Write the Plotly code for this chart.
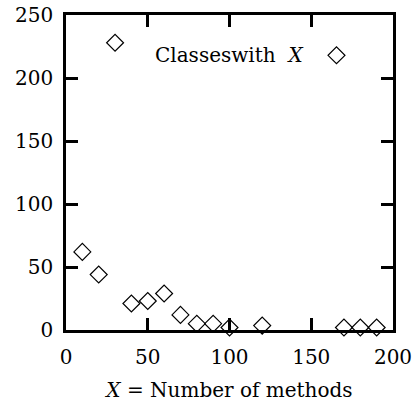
import plotly.graph_objects as go

methods = [10, 20, 30, 40, 50, 60, 70, 80, 90, 100, 120, 170, 180, 190]
classes = [62, 44, 228, 21, 23, 29, 12, 5, 5, 2, 3.5, 2, 2, 2]

x_ticks = [0, 50, 100, 150, 200]
y_ticks = [0, 50, 100, 150, 200, 250]

FONT = "DejaVu Serif"
FS = 20

fig = go.Figure()
fig.add_trace(go.Scatter(
    x=methods, y=classes, mode="markers", name=" ",
    marker=dict(symbol="diamond-open", size=13, color="black", line=dict(width=1.2, color="black")),
    cliponaxis=False, showlegend=True,
))

axis_common = dict(
    showgrid=False, zeroline=False, showline=True, linecolor="black", linewidth=2.5,
    mirror="ticks", ticks="inside", ticklen=12, tickwidth=2.5, tickcolor="black",
    tickfont=dict(family=FONT, size=FS, color="black"), automargin=False,
)

fig.update_xaxes(range=[0, 200], tickvals=x_ticks, ticktext=[str(v) for v in x_ticks],
                 ticklabelstandoff=7,
                 title=dict(text="<i>X</i> = Number of methods", font=dict(family=FONT, size=FS, color="black"), standoff=16),
                 **axis_common)
fig.update_yaxes(range=[0, 250], tickvals=y_ticks, ticktext=[str(v) for v in y_ticks],
                 ticklabelstandoff=6, **axis_common)

fig.add_annotation(xref="paper", yref="paper", x=0.73, y=0.872, xanchor="right", yanchor="middle",
                   text="Classeswith  <i>X</i>", showarrow=False,
                   font=dict(family=FONT, size=FS, color="black"))

fig.update_layout(
    width=414, height=403,
    margin=dict(l=66, r=21, t=15, b=73),
    plot_bgcolor="white", paper_bgcolor="white",
    legend=dict(x=0.766, y=0.872, xanchor="left", yanchor="middle", bgcolor="rgba(0,0,0,0)",
                font=dict(family=FONT, size=FS), itemwidth=30),
)

fig.write_html("out.html", config={"displayModeBar": False},
               post_script="document.body.style.margin='0';document.body.style.padding='0';")
